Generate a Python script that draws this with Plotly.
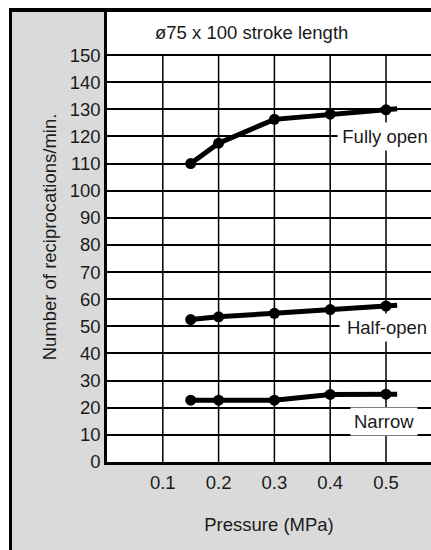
import plotly.graph_objects as go

# ---- data ----
pressure = [0.15, 0.2, 0.3, 0.4, 0.5]
pressure_end = 0.52
fully_open = [110, 117.5, 126.3, 128.2, 129.8]
fully_open_end = 130.2
half_open = [52.5, 53.5, 54.8, 56.2, 57.5]
half_open_end = 57.8
narrow = [22.8, 22.8, 22.8, 24.9, 25.0]
narrow_end = 25.0
series_names = ["Fully open", "Half-open", "Narrow"]
x_ticks = [0.1, 0.2, 0.3, 0.4, 0.5]
x_tick_labels = ["0.1", "0.2", "0.3", "0.4", "0.5"]
y_ticks = list(range(0, 151, 10))
y_tick_labels = [str(v) for v in y_ticks]
title_text = "ø75 x 100 stroke length"
x_title = "Pressure (MPa)"
y_title = "Number of reciprocations/min."

W, H = 431, 550
ML, MT, MR, MB = 107, 12, 0, 88
PW, PH = W - ML - MR, H - MT - MB
FONT = "Liberation Sans, Arial, sans-serif"
FS = 18.5
TXT = "#1a1a1a"
GRAY = "#dadada"


def px_x(px):  # page px -> paper x
    return (px - ML) / PW


def px_y(py):  # page px -> paper y
    return (H - MB - py) / PH


fig = go.Figure()

series = [
    (fully_open, fully_open_end),
    (half_open, half_open_end),
    (narrow, narrow_end),
]
for name, (vals, endv) in zip(series_names, series):
    fig.add_trace(go.Scatter(
        x=pressure + [pressure_end], y=vals + [endv], mode="lines",
        line=dict(color="black", width=5), showlegend=False, name=name,
        hoverinfo="skip"))
    fig.add_trace(go.Scatter(
        x=pressure, y=vals, mode="markers",
        marker=dict(color="black", size=11), showlegend=False, name=name))

shapes = []
# vertical grid lines stop at 150
for xv in x_ticks:
    shapes.append(dict(type="line", xref="x", yref="y", x0=xv, x1=xv,
                       y0=0, y1=max(y_ticks), layer="below",
                       line=dict(color="black", width=1.5)))
# white outer strips and black frame (top and left)
shapes += [
    dict(type="rect", xref="paper", yref="paper", x0=px_x(0), x1=px_x(9),
         y0=px_y(H), y1=px_y(0), fillcolor="white", line_width=0,
         layer="above"),
    dict(type="rect", xref="paper", yref="paper", x0=px_x(0), x1=px_x(W),
         y0=px_y(8), y1=px_y(0), fillcolor="white", line_width=0,
         layer="above"),
    dict(type="rect", xref="paper", yref="paper", x0=px_x(9), x1=px_x(W),
         y0=px_y(12), y1=px_y(8), fillcolor="black", line_width=0,
         layer="above"),
    dict(type="rect", xref="paper", yref="paper", x0=px_x(9), x1=px_x(12),
         y0=px_y(H), y1=px_y(8), fillcolor="black", line_width=0,
         layer="above"),
]

label_pos = {"Fully open": (0.499, 120, 88), "Half-open": (0.501, 49.5, 88),
             "Narrow": (0.496, 15, None)}
annotations = []
for name in series_names:
    lx, ly, lw = label_pos[name]
    ann = dict(x=lx, y=ly, xref="x", yref="y", text=name,
               showarrow=False, bgcolor="white", borderpad=3,
               xanchor="center", yanchor="middle",
               font=dict(family=FONT, size=FS, color=TXT))
    if lw:
        ann["width"] = lw
    annotations.append(ann)
annotations.append(dict(x=px_x(251), y=px_y(33), xref="paper", yref="paper",
                        text=title_text, showarrow=False,
                        xanchor="center", yanchor="middle",
                        font=dict(family=FONT, size=FS, color=TXT)))

fig.update_layout(
    width=W, height=H,
    margin=dict(l=ML, r=MR, t=MT, b=MB, pad=0),
    paper_bgcolor=GRAY, plot_bgcolor="white",
    font=dict(family=FONT, size=FS, color=TXT),
    shapes=shapes, annotations=annotations, showlegend=False,
    xaxis=dict(range=[0, PW / 558.0], tickvals=x_ticks, ticktext=x_tick_labels,
               showgrid=False, zeroline=False, showline=True,
               linecolor="black", linewidth=2.5, ticks="outside", ticklen=2,
               tickcolor="rgba(0,0,0,0)",
               title=dict(text=x_title, standoff=27,
                          font=dict(family=FONT, size=FS, color=TXT))),
    yaxis=dict(range=[0, PH / 2.713], tickvals=y_ticks, ticktext=y_tick_labels,
               showgrid=True, gridcolor="black", gridwidth=1.5,
               zeroline=False, showline=True, linecolor="black", linewidth=2.5,
               ticks="",
               title=dict(text=y_title, standoff=9,
                          font=dict(family=FONT, size=FS, color=TXT))),
)

fig.write_html(
    "out.html",
    config={"displayModeBar": False},
    post_script="document.documentElement.style.overflow='hidden';"
                "document.body.style.overflow='hidden';"
                "document.body.style.margin='0';",
)
